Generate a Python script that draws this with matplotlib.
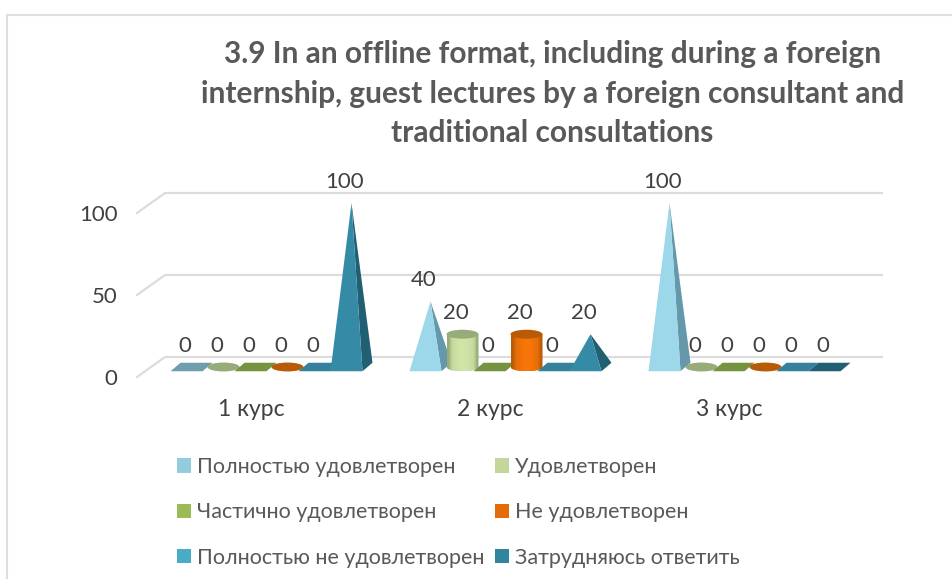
import numpy as np
import matplotlib
matplotlib.use("Agg")
import matplotlib.pyplot as plt
from matplotlib.colors import LinearSegmentedColormap
from matplotlib.patches import Polygon, Ellipse, Patch

plt.rcParams['font.family'] = ['Lato', 'Open Sans', 'DejaVu Sans']

# ---- data ----
categories = ['1 курс', '2 курс', '3 курс']
series_names = ['Полностью удовлетворен', 'Удовлетворен', 'Частично удовлетворен',
                'Не удовлетворен', 'Полностью не удовлетворен', 'Затрудняюсь ответить']
polnostyu = [0, 40, 100]
udovl = [0, 20, 0]
chastichno = [0, 0, 0]
ne_udovl = [0, 20, 0]
poln_ne = [0, 0, 0]
zatrud = [100, 20, 0]
values = [polnostyu, udovl, chastichno, ne_udovl, poln_ne, zatrud]
y_ticks = [0, 50, 100]
title = ('3.9 In an offline format, including during a foreign\n'
         'internship, guest lectures by a foreign consultant and\n'
         'traditional consultations')

# ---- styles ----
legend_cols = ['#93CDDD', '#C3D69B', '#9BBB59', '#E36C09', '#4BACC6', '#31859C']
flat_cols = ['#6E9EAE', '#97AC78', '#769440', '#B85A06', '#35809A', '#215F72']
front_cols = ['#9CD8EA', '#C3D69B', '#9BBB59', '#E36C09', '#3B95B0', '#358BA6']
side_cols = ['#6498AA', '#97AC78', '#769440', '#B85A06', '#256A7F', '#215F72']
cyl_mid = {1: '#D2E5A8', 3: '#F87508'}
kinds = ['pyr', 'cyl', 'box', 'cyl', 'box', 'pyr']
text_col = '#404040'
grid_col = '#DCDCDC'

W, H = 953, 579
fig = plt.figure(figsize=(W / 100, H / 100), dpi=100)
fig.patch.set_facecolor('white')

# Chart frame (left and top edges only are visible)
fig.add_artist(plt.Line2D([6.7 / W, 6.7 / W, 1],
                          [0, 1 - 14.7 / H, 1 - 14.7 / H],
                          color='#DEDEDE', lw=1.5, transform=fig.transFigure,
                          solid_joinstyle='miter'))

# Axes: px_x = 137..882, 1 unit y = 1.64 px, y=0 at px 367
PX_L, PX_R, PX_T, PX_B = 137, 882, 170, 400
ax = fig.add_axes([PX_L / W, 1 - PX_B / H, (PX_R - PX_L) / W, (PX_B - PX_T) / H])
GP = 239.0                       # px per category
YS = 1.64                        # px per value unit
X0 = 266.5                       # px centre of first group
XLIM = ((PX_L - X0) / GP, (PX_R - X0) / GP)
YLIM = ((367 - PX_B) / YS, (367 - PX_T) / YS)
ax.set_xlim(*XLIM)
ax.set_ylim(*YLIM)
ax.patch.set_alpha(0)
for s in ax.spines.values():
    s.set_visible(False)

BW = 32 / GP       # bar width
PITCH = 32 / GP    # bar pitch
DX = 10 / GP       # depth x
DY = 8.5 / YS      # depth y
WALL_X = 28 / GP
WALL_Y = 6.1

# Walls / gridlines
x_back = XLIM[0] + WALL_X
for v in y_ticks:
    ax.plot([XLIM[0], x_back, XLIM[1]], [v - WALL_Y, v + WALL_Y, v + WALL_Y],
            color=grid_col, lw=1.6, clip_on=False, zorder=1, solid_joinstyle='miter')


def pyramid(x, v, i, z):
    y0 = -DY / 2
    ax.add_patch(Polygon([(x + BW, y0), (x + BW + DX, y0 + DY), (x + BW / 2 + DX / 2, v)],
                         fc=side_cols[i], ec='none', zorder=z))
    ax.add_patch(Polygon([(x, y0), (x + BW, y0), (x + BW / 2 + DX / 2, v)],
                         fc=front_cols[i], ec='none', zorder=z + .1))


def flat(x, i, z):
    y0 = -DY / 2
    ax.add_patch(Polygon([(x, y0), (x + BW, y0), (x + BW + DX, y0 + DY), (x + DX, y0 + DY)],
                         fc=flat_cols[i], ec='none', zorder=z))


def cylinder(x, v, i, z):
    cx = x + BW / 2 + DX / 2
    w, h = BW, DY * 1.05
    if v > 0:
        left, right = cx - w / 2, cx + w / 2
        t = np.linspace(np.pi, 2 * np.pi, 30)
        outline = [(left, v)] + list(zip(cx + w / 2 * np.cos(t), h / 2 * np.sin(t))) + [(right, v)]
        clip = Polygon(outline, fc='none', ec='none', transform=ax.transData)
        ax.add_patch(clip)
        cmap = LinearSegmentedColormap.from_list('c', [flat_cols[i], front_cols[i], cyl_mid[i]])
        shade = np.array([[0.0, .55, .8, .95, 1.0, .95, .8, .55, 0.0]])
        im = ax.imshow(shade, extent=[left, right, -h / 2, v], aspect='auto', zorder=z,
                       cmap=cmap, vmin=0, vmax=1, interpolation='bilinear')
        im.set_clip_path(clip)
        ax.add_patch(Ellipse((cx, v), w, h, fc=flat_cols[i], ec='none', zorder=z + .2))
    else:
        ax.add_patch(Ellipse((cx, 0), w, h, fc=flat_cols[i], ec='none', zorder=z))


for i, vals in enumerate(values):
    for g, v in enumerate(vals):
        x = g - 3 * PITCH + i * PITCH
        z = 3 + i * 0.3
        if v == 0:
            if kinds[i] == 'cyl':
                cylinder(x, 0, i, z)
            else:
                flat(x, i, z)
        elif kinds[i] == 'pyr':
            pyramid(x, v, i, z)
        else:
            cylinder(x, v, i, z)
        ax.annotate(str(v), (x + BW / 2, v), xytext=(-1.5, 11),
                    textcoords='offset pixels', ha='center', va='bottom',
                    fontsize=16, color=text_col, zorder=10)

ax.set_xlim(*XLIM)
ax.set_ylim(*YLIM)

ax.set_xticks([g - 15.5 / GP for g in range(len(categories))], categories)
ax.set_yticks([v - WALL_Y for v in y_ticks], [str(v) for v in y_ticks])
ax.tick_params(axis='both', length=0, colors=text_col)
ax.tick_params(axis='x', labelsize=16.5, pad=-1)
ax.tick_params(axis='y', labelsize=16, pad=14)

fig.text(552.5 / W, 1 - 93.5 / H, title, ha='center', va='center', fontsize=21.5,
         fontweight='bold', color='#595959', linespacing=1.48)

order = [0, 2, 4, 1, 3, 5]
handles = [Patch(fc=legend_cols[i], ec='none') for i in order]
labels = [series_names[i] for i in order]
fig.legend(handles, labels, ncol=2, frameon=False, loc='upper left',
           bbox_to_anchor=(177 / W, 1 - 457 / H), fontsize=15.5, labelcolor='#595959',
           handlelength=0.65, handleheight=0.65, handletextpad=0.3, columnspacing=0.45,
           labelspacing=1.18, borderpad=0, borderaxespad=0)

fig.savefig('out.png', dpi=100)
